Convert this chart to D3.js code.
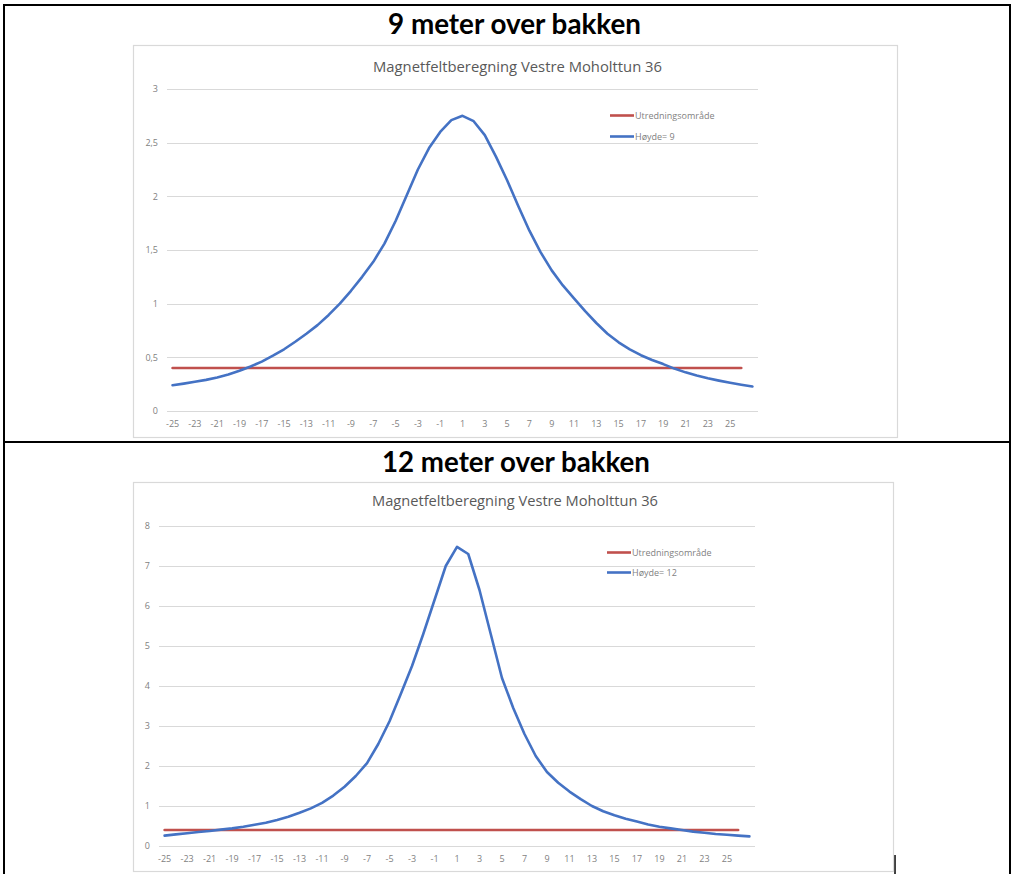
<!DOCTYPE html>
<html><head><meta charset="utf-8">
<script src="https://cdn.jsdelivr.net/npm/d3@7"></script>
<style>body{margin:0;background:#fff}svg{display:block}</style>
</head><body>
<svg id="c" width="1013" height="874"></svg>
<script>
// ---------- DATA ----------
const categories = [-25,-24,-23,-22,-21,-20,-19,-18,-17,-16,-15,-14,-13,-12,-11,-10,-9,-8,-7,-6,-5,-4,-3,-2,-1,0,1,2,3,4,5,6,7,8,9,10,11,12,13,14,15,16,17,18,19,20,21,22,23,24,25,26,27];
const xTickLabels = [-25,-23,-21,-19,-17,-15,-13,-11,-9,-7,-5,-3,-1,1,3,5,7,9,11,13,15,17,19,21,23,25];
const panelTitles = ["9 meter over bakken", "12 meter over bakken"];
const chartTitle = "Magnetfeltberegning Vestre Moholttun 36";
const limitName = "Utredningsområde";
const heightNames = ["Høyde= 9", "Høyde= 12"];
// Utredningsområde: 0.4 from -25 to 26
const limitValues = [0.4,0.4,0.4,0.4,0.4,0.4,0.4,0.4,0.4,0.4,0.4,0.4,0.4,0.4,0.4,0.4,0.4,0.4,0.4,0.4,0.4,0.4,0.4,0.4,0.4,0.4,0.4,0.4,0.4,0.4,0.4,0.4,0.4,0.4,0.4,0.4,0.4,0.4,0.4,0.4,0.4,0.4,0.4,0.4,0.4,0.4,0.4,0.4,0.4,0.4,0.4,0.4];
// Høyde = 9 m, -25 .. 27
const height9 = [0.24,0.255,0.272,0.29,0.313,0.34,0.375,0.415,0.46,0.515,0.575,0.645,0.72,0.80,0.895,1.0,1.12,1.25,1.39,1.56,1.77,2.01,2.25,2.45,2.60,2.71,2.75,2.70,2.57,2.37,2.15,1.91,1.68,1.48,1.31,1.17,1.05,0.93,0.82,0.72,0.64,0.575,0.52,0.475,0.437,0.395,0.36,0.33,0.305,0.283,0.263,0.245,0.228];
// Høyde = 12 m, -25 .. 27
const height12 = [0.26,0.29,0.32,0.35,0.375,0.41,0.44,0.48,0.53,0.58,0.65,0.73,0.83,0.94,1.08,1.26,1.48,1.75,2.07,2.55,3.12,3.8,4.5,5.3,6.15,7.0,7.48,7.3,6.4,5.3,4.2,3.45,2.8,2.25,1.85,1.58,1.36,1.17,1.0,0.87,0.77,0.68,0.61,0.54,0.48,0.44,0.40,0.36,0.33,0.30,0.28,0.26,0.24];
const yTicks9 = [0,0.5,1,1.5,2,2.5,3];
const yTicks12 = [0,1,2,3,4,5,6,7,8];

// ---------- DRAW ----------
const svg = d3.select("#c");
const fmt = d3.formatLocale({decimal:",", thousands:" ", grouping:[3], currency:["","kr"]}).format("~g");
const BLUE = "#4472C4", RED = "#C0504D", GRID = "#d9d9d9", TXT = "#7f7f7f", TTL = "#595959";

// table frame
const frame = svg.append("g").attr("stroke","#000").attr("stroke-width",2);
frame.append("line").attr("x1",3).attr("x2",1011).attr("y1",5).attr("y2",5);
frame.append("line").attr("x1",4).attr("x2",4).attr("y1",4).attr("y2",874);
frame.append("line").attr("x1",1010).attr("x2",1010).attr("y1",4).attr("y2",874);
frame.append("line").attr("x1",3).attr("x2",1011).attr("y1",442).attr("y2",442);
frame.append("line").attr("x1",895).attr("x2",895).attr("y1",855).attr("y2",874).attr("stroke-width",1.5);

function drawPanel(o){
  svg.append("text").attr("x",o.headX).attr("y",o.headY).attr("text-anchor","middle")
    .attr("font-family","Lato, 'Open Sans', sans-serif").attr("font-weight","bold")
    .attr("font-size",28).attr("fill","#000")
    .attr("textLength",o.headW).attr("lengthAdjust","spacingAndGlyphs").text(o.head);
  const g = svg.append("g");
  g.append("rect").attr("x",o.box[0]+0.5).attr("y",o.box[1]+0.5).attr("width",o.box[2]).attr("height",o.box[3])
    .attr("fill","#fff").attr("stroke",GRID).attr("stroke-width",1.2);
  g.append("text").attr("x",o.titleX).attr("y",o.titleY).attr("text-anchor","middle")
    .attr("font-family","'Open Sans', sans-serif").attr("font-size",14.5).attr("fill",TTL)
    .attr("textLength",o.titleW).attr("lengthAdjust","spacingAndGlyphs").text(chartTitle);

  const x = d3.scaleBand().domain(categories).range([o.left,o.right]).paddingInner(0).paddingOuter(0);
  const y = d3.scaleLinear().domain([0,o.yMax]).range([o.bottom,o.top]);

  // gridlines
  g.append("g").selectAll("line").data(o.yTicks).join("line")
    .attr("x1",o.left).attr("x2",o.right).attr("y1",d=>Math.round(y(d))+0.5).attr("y2",d=>Math.round(y(d))+0.5)
    .attr("stroke",GRID).attr("stroke-width",1);

  // y axis
  const ya = g.append("g").attr("transform",`translate(${o.left},0)`)
    .call(d3.axisLeft(y).tickValues(o.yTicks).tickFormat(fmt).tickSize(0).tickPadding(o.yPad));
  ya.select(".domain").remove();
  ya.selectAll("text").attr("font-family","'Open Sans', sans-serif").attr("font-size",9).attr("fill",TXT);

  // x axis
  const xa = g.append("g").attr("transform",`translate(0,${o.bottom})`)
    .call(d3.axisBottom(x).tickValues(xTickLabels).tickSize(0).tickPadding(o.xPad));
  xa.select(".domain").remove();
  xa.selectAll("text").attr("font-family","'Open Sans', sans-serif").attr("font-size",9).attr("fill",TXT);

  const cx = d => x(d) + x.bandwidth()/2;
  const line = d3.line().x(d=>cx(d[0])).y(d=>y(d[1]));
  const redPts = limitValues.map((v,i)=>[categories[i],v]);
  const bluePts = o.values.map((v,i)=>[categories[i],v]);
  g.append("path").attr("d",line(redPts)).attr("fill","none").attr("stroke",RED).attr("stroke-width",2.6).attr("stroke-linecap","round");
  g.append("path").attr("d",line(bluePts)).attr("fill","none").attr("stroke",BLUE).attr("stroke-width",2.6)
    .attr("stroke-linecap","round").attr("stroke-linejoin","round");

  // legend
  const lg = g.append("g").attr("font-family","'Open Sans', sans-serif").attr("font-size",9).attr("fill",TXT);
  [[RED,limitName,o.legY[0]],[BLUE,o.name,o.legY[1]]].forEach(([c,t,ly])=>{
    lg.append("line").attr("x1",o.legX).attr("x2",o.legX+24).attr("y1",ly).attr("y2",ly).attr("stroke",c).attr("stroke-width",2.6);
    lg.append("text").attr("x",o.legX+25).attr("y",ly+3.2).text(t);
  });
}

drawPanel({head:panelTitles[0], headX:514.5, headY:34, headW:253, box:[133,45,764,392], titleX:517.5, titleY:72, titleW:289,
  left:167, right:758, top:89, bottom:411, yMax:3, yTicks:yTicks9, yPad:9, xPad:10,
  values:height9, name:heightNames[0], legX:610, legY:[115.5,136.5]});
drawPanel({head:panelTitles[1], headX:516, headY:472, headW:268, box:[133,482,760,389], titleX:515, titleY:506, titleW:286,
  left:159, right:755, top:526, bottom:846, yMax:8, yTicks:yTicks12, yPad:9, xPad:10,
  values:height12, name:heightNames[1], legX:607, legY:[552.5,572.5]});
</script>
</body></html>
